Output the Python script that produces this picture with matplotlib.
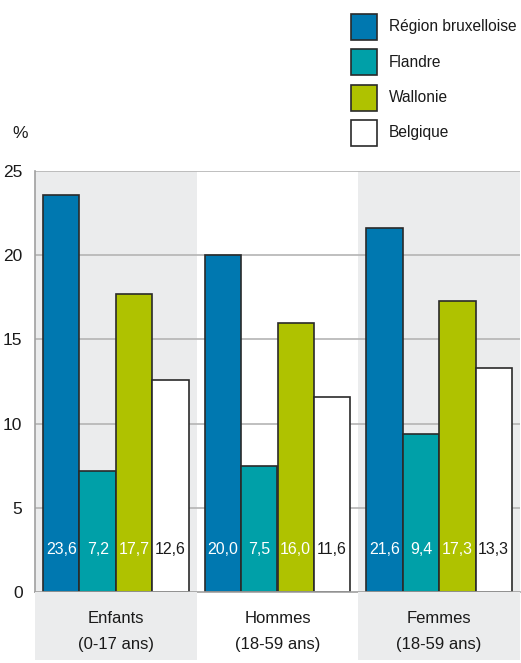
import matplotlib.pyplot as plt
from matplotlib.patches import Rectangle
import numpy as np

plt.rcParams['font.family'] = ['Liberation Sans', 'DejaVu Sans']

groups = ["Enfants\n(0-17 ans)", "Hommes\n(18-59 ans)", "Femmes\n(18-59 ans)"]
regions = ["Région bruxelloise", "Flandre", "Wallonie", "Belgique"]
bruxelles = [23.6, 20.0, 21.6]
flandre = [7.2, 7.5, 9.4]
wallonie = [17.7, 16.0, 17.3]
belgique = [12.6, 11.6, 13.3]

colors = ["#0078b0", "#00a0a8", "#afc200", "#ffffff"]
text_colors = ["white", "white", "white", "#1a1a1a"]
band = "#ebeced"
W, H = 521, 663

fig = plt.figure(figsize=(W / 100, H / 100), dpi=100)
ax = fig.add_axes([35/W, 71/H, 485/W, 421/H])

x = np.arange(len(groups))
width = 0.225
series = [bruxelles, flandre, wallonie, belgique]

# grey bands behind first and last group
for i in (0, 2):
    ax.axvspan(i - 0.5, i + 0.5, color=band, zorder=0, lw=0)

for yv in [5, 10, 15, 20, 25]:
    ax.axhline(yv, color="#b4b4b4", lw=1.2, zorder=1)

for k, vals in enumerate(series):
    pos = x + (k - 1.5) * width
    ax.bar(pos, vals, width, color=colors[k], edgecolor="#2a2a2a", lw=1.2, zorder=2)
    for p, v in zip(pos, vals):
        ax.text(p, 2.5, f"{v:.1f}".replace(".", ","), ha="center", va="center",
                color=text_colors[k], fontsize=11.5, zorder=3)

ax.set_xlim(-0.5, 2.5)
ax.set_ylim(0, 25)
ax.set_yticks([0, 5, 10, 15, 20, 25])
ax.set_xticks([])
ax.tick_params(axis="y", length=0, labelsize=12.5, pad=9, colors="#1a1a1a")
for s in ["top", "right"]:
    ax.spines[s].set_visible(False)
for s in ["left", "bottom"]:
    ax.spines[s].set_color("#a0a0a0")
    ax.spines[s].set_linewidth(1.2)

# category labels in boxes under the axis
lab = fig.add_axes([35/W, 3/H, 485/W, 68/H])
lab.set_xlim(-0.5, 2.5)
lab.set_ylim(0, 1)
lab.axis("off")
for i, g in enumerate(groups):
    if i != 1:
        lab.axvspan(i - 0.5, i + 0.5, color=band, lw=0)
    lab.text(i, 0.42, g, ha="center", va="center", fontsize=12,
             color="#1a1a1a", linespacing=1.9)

fig.text(12/W, 1 - 133/H, "%", fontsize=12.5, va="center", color="#1a1a1a")

# legend: squares with labels stacked at the top right
for k, name in enumerate(regions):
    top = 14 + k * 35.3
    fig.add_artist(Rectangle((351/W, 1 - (top + 26)/H), 26/W, 26/H,
                             transform=fig.transFigure, facecolor=colors[k],
                             edgecolor="#2a2a2a", lw=1.2))
    fig.text(389/W, 1 - (top + 13)/H, name, fontsize=11.2, va="center",
             color="#1a1a1a")

fig.savefig("out.png", dpi=100)
